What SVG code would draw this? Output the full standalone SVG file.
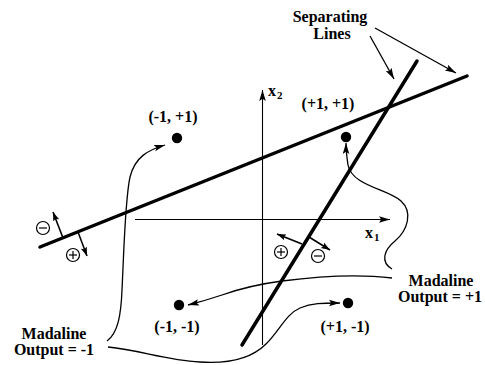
<svg xmlns="http://www.w3.org/2000/svg" width="485" height="365" viewBox="0 0 485 365">
<defs>
<marker id="ah" viewBox="0 0 10 10" refX="10" refY="5" markerWidth="11" markerHeight="11" markerUnits="userSpaceOnUse" orient="auto"><path d="M0,2 L10,5 L0,8 L2,5 z" fill="#000"/></marker>
<marker id="ahs" viewBox="0 0 10 10" refX="10" refY="5" markerWidth="9" markerHeight="9" markerUnits="userSpaceOnUse" orient="auto"><path d="M0,1.5 L10,5 L0,8.5 L2,5 z" fill="#000"/></marker>
<style>
.sep{stroke:#000;stroke-width:3.5;stroke-linecap:round;fill:none}
.axis{stroke:#000;stroke-width:1.1;fill:none}
.cur{stroke:#000;stroke-width:1.3;fill:none}
.perp{stroke:#000;stroke-width:1.6;fill:none;marker-end:url(#ahs)}
.arr{marker-end:url(#ah)}
.t{font-family:"Liberation Serif","Times New Roman",serif;font-weight:bold;font-size:16px;fill:#000}
.sub{font-size:11px}
.sym{stroke:#000;stroke-width:1.2;fill:#fff}
.dot{fill:#000}
</style>
</defs>
<rect width="485" height="365" fill="#fff"/>

<g id="separating-lines">
<line class="sep" x1="40" y1="247" x2="467" y2="76"/>
<line class="sep" x1="417" y1="61" x2="242" y2="345"/>
</g>

<g id="axes">
<line class="axis arr" x1="262.5" y1="345" x2="262.5" y2="90"/>
<line class="axis arr" x1="135" y1="219.5" x2="390" y2="219.5"/>
<text class="t" x="268" y="96" font-size="15">x<tspan class="sub" dx="1" dy="3">2</tspan></text>
<text class="t" x="365" y="238" font-size="15">x<tspan class="sub" dx="1" dy="3">1</tspan></text>
</g>

<g id="connectors">
<line class="cur arr" x1="370" y1="36" x2="394" y2="79"/>
<line class="cur arr" x1="375" y1="28" x2="456" y2="73"/>
<path class="perp" d="M63,238 L53,212"/>
<path class="perp" d="M78,232 L87,256"/>
<path class="perp" d="M302,244 L277,234"/>
<path class="perp" d="M309,237 L330,250"/>
<path class="cur arr" d="M107,341 C118,333 121,315 122,290 C124,250 125,200 130,177 C135,157 148,150 165,145"/>
<path class="cur arr" d="M108,347 C140,350 165,360 200,362 C230,364 252,358 266,344 C280,330 286,314 300,308 C312,303 322,303 340,303"/>
<path class="cur arr" d="M392,278 C360,274 320,276 282,281 C252,285 236,290 222,295 C210,299 200,302 188,305"/>
<path class="cur arr" d="M392,269 C380,262 384,250 395,241 C408,230 413,212 401,201 C388,189 352,186 348,165 C347,158 346,152 346,143"/>
</g>

<g id="sign-left">
<circle class="sym" cx="43" cy="228" r="6.5"/>
<line x1="39" y1="228" x2="47" y2="228" stroke="#000" stroke-width="1.2"/>
<circle class="sym" cx="73" cy="255" r="6.5"/>
<line x1="69" y1="255" x2="77" y2="255" stroke="#000" stroke-width="1.2"/>
<line x1="73" y1="251" x2="73" y2="259" stroke="#000" stroke-width="1.2"/>
</g>

<g id="sign-right">
<circle class="sym" cx="281" cy="252" r="6.5"/>
<line x1="277" y1="252" x2="285" y2="252" stroke="#000" stroke-width="1.2"/>
<line x1="281" y1="248" x2="281" y2="256" stroke="#000" stroke-width="1.2"/>
<circle class="sym" cx="318" cy="256" r="6.5"/>
<line x1="314" y1="256" x2="322" y2="256" stroke="#000" stroke-width="1.2"/>
</g>

<g id="label-separating">
<text class="t" x="330" y="22" text-anchor="middle">Separating</text>
<text class="t" x="332" y="39" text-anchor="middle">Lines</text>
</g>

<g id="point-m1-p1">
<circle class="dot" cx="177" cy="138" r="5.2"/>
<text class="t" x="173" y="122" text-anchor="middle">(-1, +1)</text>
</g>

<g id="point-p1-p1">
<circle class="dot" cx="346" cy="137" r="5.2"/>
<text class="t" x="328" y="109" text-anchor="middle">(+1, +1)</text>
</g>

<g id="point-m1-m1">
<circle class="dot" cx="179" cy="305" r="5.2"/>
<text class="t" x="177" y="332" text-anchor="middle">(-1, -1)</text>
</g>

<g id="point-p1-m1">
<circle class="dot" cx="348" cy="303" r="5.2"/>
<text class="t" x="345" y="332" text-anchor="middle">(+1, -1)</text>
</g>

<g id="label-output-minus">
<text class="t" x="54" y="339" text-anchor="middle">Madaline</text>
<text class="t" x="54" y="355" text-anchor="middle">Output = -1</text>
</g>

<g id="label-output-plus">
<text class="t" x="441" y="286" text-anchor="middle">Madaline</text>
<text class="t" x="440" y="302" text-anchor="middle">Output = +1</text>
</g>
</svg>
